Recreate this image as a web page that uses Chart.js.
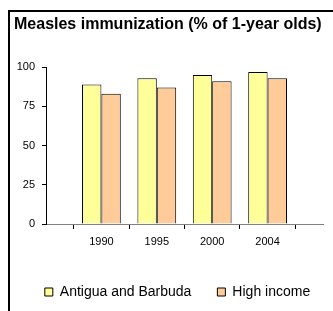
<!DOCTYPE html>
<html>
<head>
<meta charset="utf-8">
<script src="https://cdn.jsdelivr.net/npm/chart.js@4/dist/chart.umd.min.js"></script>
<style>
  body { margin: 0; background: #fff; }
  #wrap { position: relative; width: 333px; height: 311px; overflow: hidden; }
  #frame { position: absolute; left: 8px; top: 10px; width: 400px; height: 400px;
           border-left: 2px solid #000; border-top: 2px solid #000; }
  canvas { position: absolute; left: 0; top: 0; }
</style>
</head>
<body>
<div id="wrap">
  <div id="frame"></div>
  <canvas id="chart" width="333" height="311"></canvas>
</div>
<script>
// chart data
const categories = ["1990", "1995", "2000", "2004"];
const antigua = [89, 93, 95, 97];
const highIncome = [83, 87, 91, 93];
const yTicks = [0, 25, 50, 75, 100];

// one empty slot on each side, like the original axis
const labels = [""].concat(categories, [""]);
const pad = arr => [null].concat(arr, [null]);

const fontName = "'Liberation Sans', Arial, sans-serif";

// nudge title and legend, chart.js puts them against the canvas edge / centre
const nudgeBoxes = {
  id: "nudgeBoxes",
  afterLayout(chart) {
    const lg = chart.legend;
    lg.left += 16;
    lg.right += 16;
    lg.top -= 2;
    lg.bottom -= 2;
    chart.titleBlock.left = 14;
  }
};

const ctx = document.getElementById("chart").getContext("2d");
const chart = new Chart(ctx, {
  type: "bar",
  data: {
    labels: labels,
    datasets: [
      {
        label: "Antigua and Barbuda",
        data: pad(antigua),
        backgroundColor: "#FFFF99",
        borderColor: "#000",
        borderWidth: 1
      },
      {
        label: "High income",
        data: pad(highIncome),
        backgroundColor: "#FFCC99",
        borderColor: "#000",
        borderWidth: 1
      }
    ]
  },
  options: {
    responsive: false,
    animation: false,
    layout: { padding: { left: 0, right: 10, top: 0, bottom: 0 } },
    datasets: { bar: { categoryPercentage: 0.7, barPercentage: 1 } },
    scales: {
      x: {
        offset: false,
        grid: { drawOnChartArea: false, tickLength: 5, color: "#000" },
        border: { color: "#808080" },
        ticks: {
          color: "#000",
          font: { family: fontName, size: 11 },
          maxRotation: 0,
          autoSkip: false,
          padding: 6
        },
        afterFit: scale => { scale.height = 37; }
      },
      y: {
        min: 0,
        max: 100,
        afterBuildTicks: scale => {
          scale.ticks = yTicks.map(v => ({ value: v }));
        },
        grid: { drawOnChartArea: false, tickLength: 4, color: "#000" },
        border: { color: "#000" },
        ticks: {
          color: "#000",
          font: { family: fontName, size: 11 },
          padding: 7
        },
        afterFit: scale => { scale.width = 46; }
      }
    },
    plugins: {
      title: {
        display: true,
        text: "Measles immunization (% of 1-year olds)",
        align: "start",
        color: "#000",
        font: { family: fontName, size: 16, weight: "bold" },
        padding: { top: 15, bottom: 33 }
      },
      legend: {
        position: "bottom",
        labels: {
          color: "#000",
          boxWidth: 8,
          boxHeight: 8,
          padding: 26,
          font: { family: fontName, size: 14 }
        }
      },
      tooltip: { enabled: false }
    }
  },
  plugins: [nudgeBoxes]
});
</script>
</body>
</html>
